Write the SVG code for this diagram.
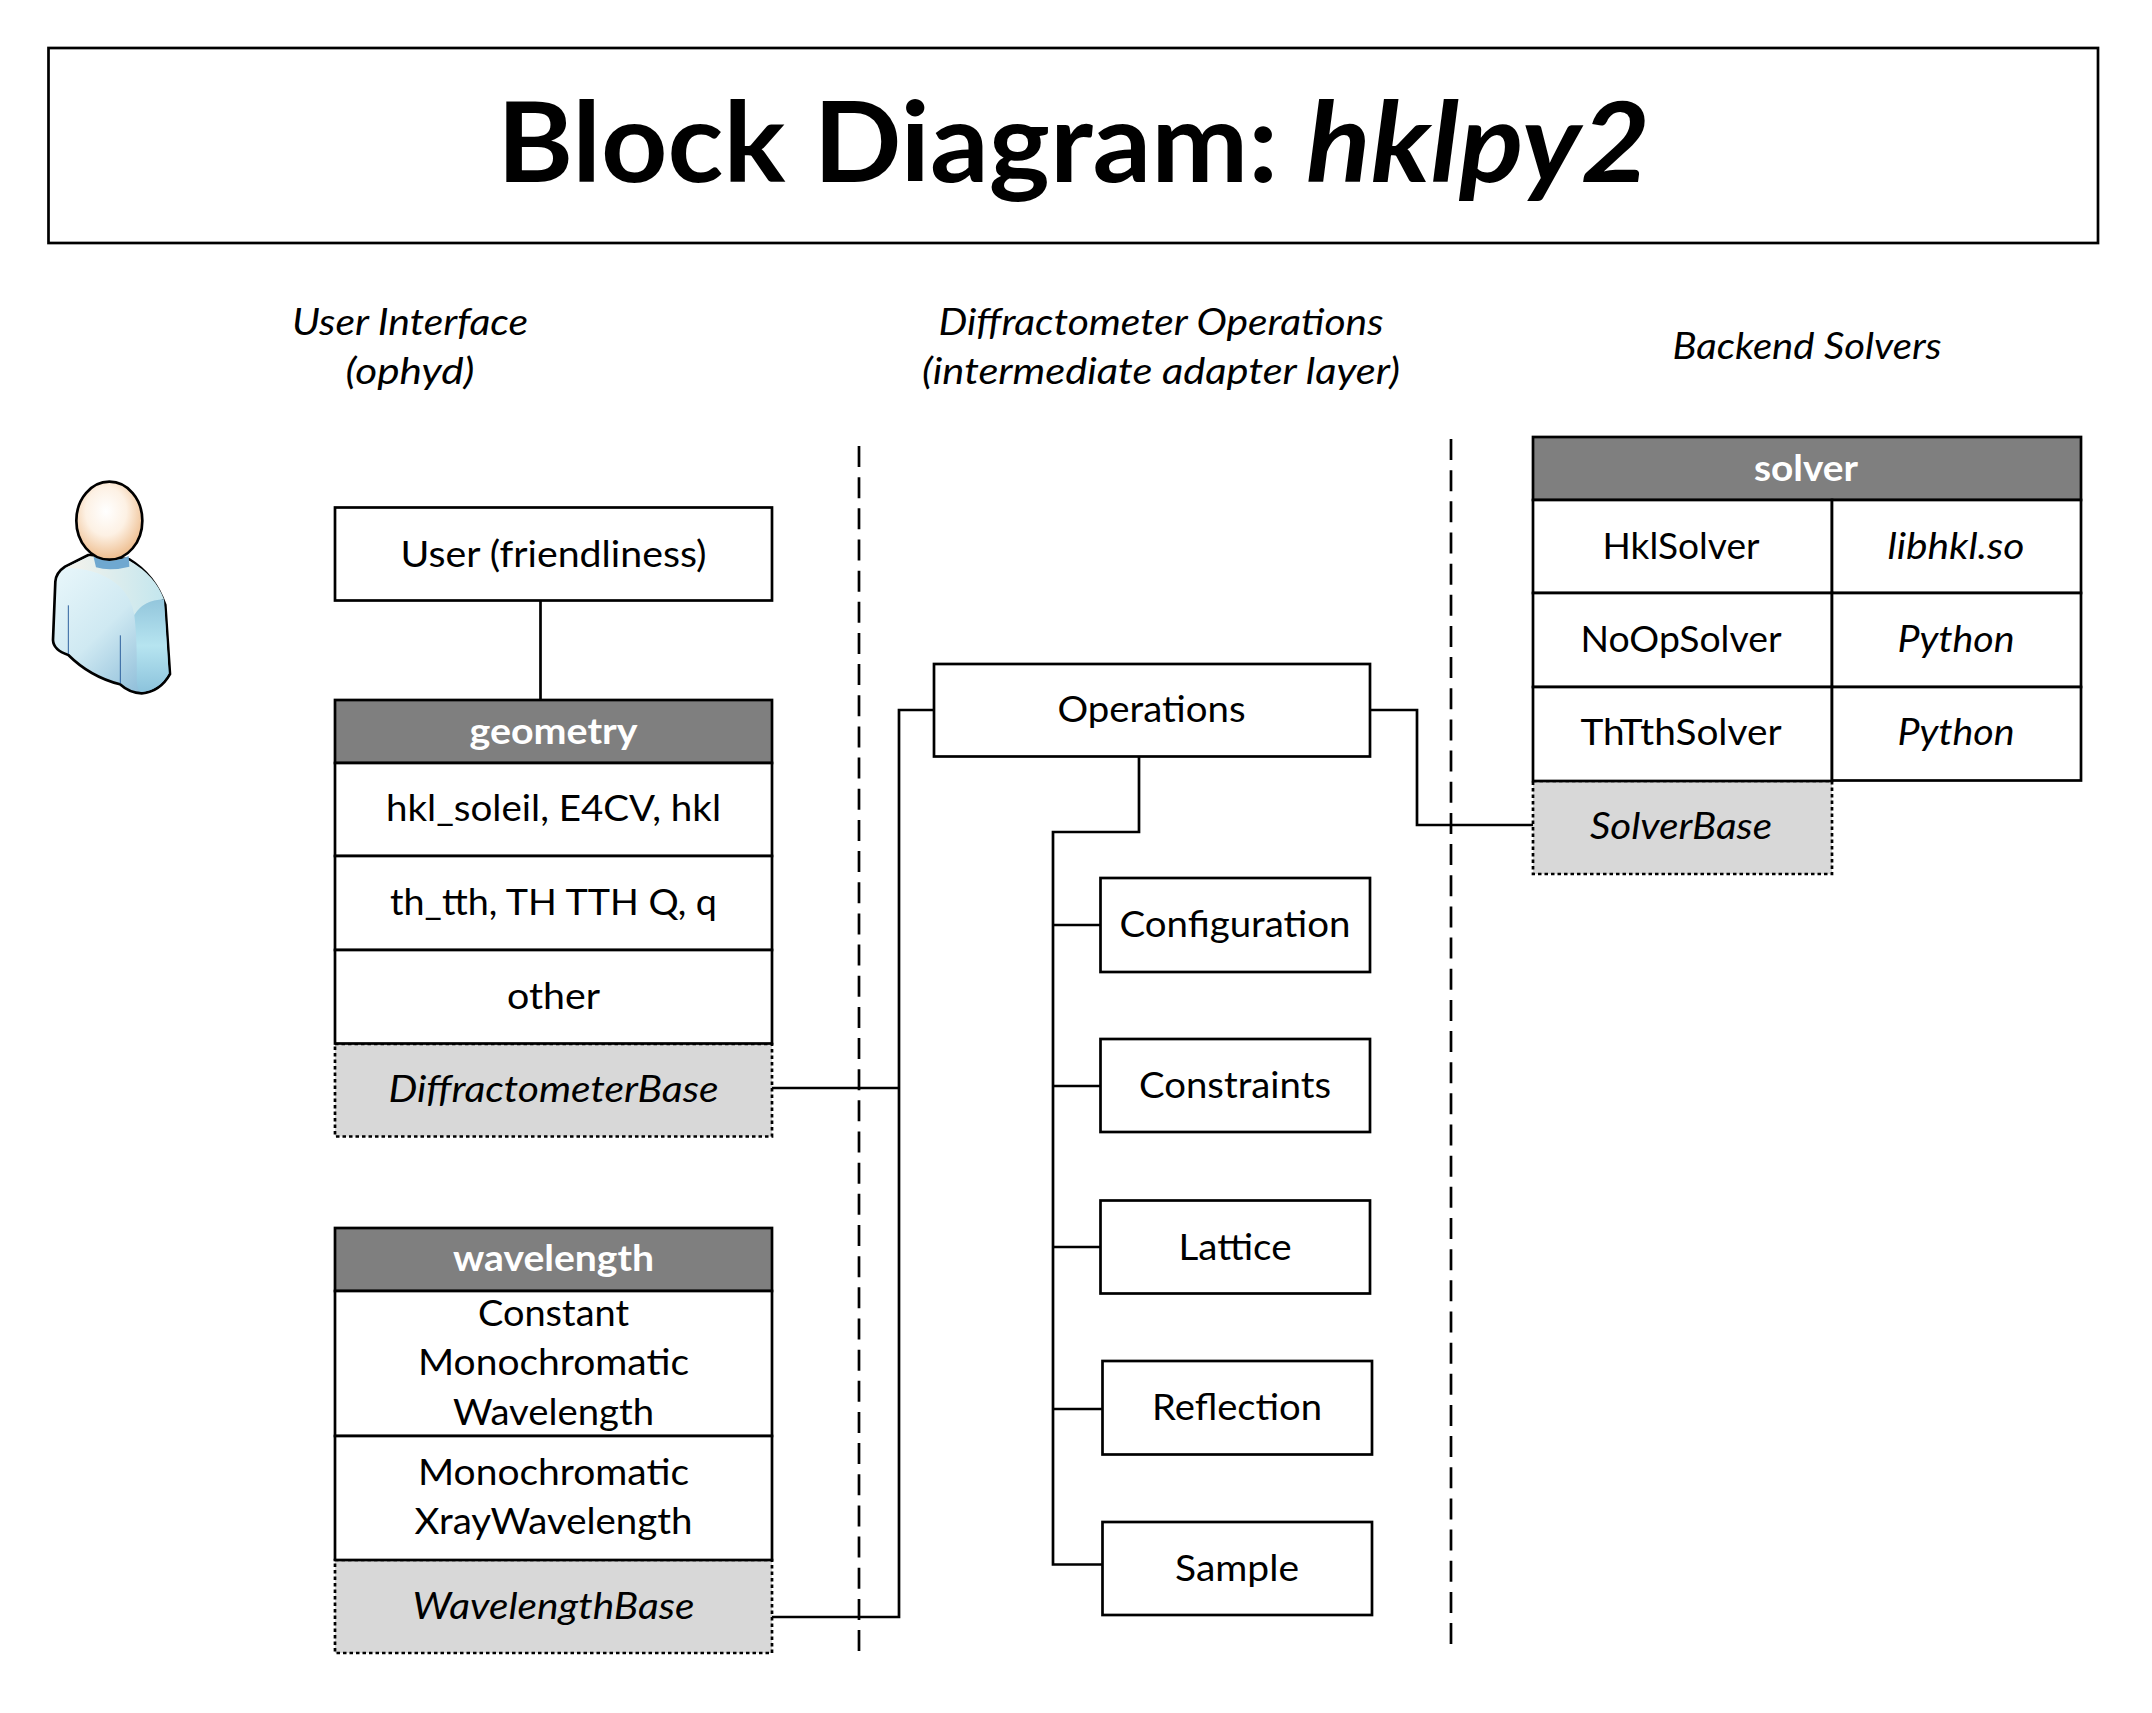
<svg xmlns="http://www.w3.org/2000/svg" width="2152" height="1713" viewBox="0 0 2152 1713">
<style>
text{font-family:"Lato","Carlito","Open Sans",sans-serif;font-size:36px;fill:#000;text-anchor:middle}
.i{font-style:italic}
.h{font-weight:700;fill:#fff}
.cell{fill:#fff;stroke:#000;stroke-width:2.7}
.head{fill:#7f7f7f;stroke:#000;stroke-width:2.7}
.base{fill:#d8d8d8;stroke:#000;stroke-width:2.7;stroke-dasharray:3.5 3}
.wire{fill:none;stroke:#000;stroke-width:2.7}
.div{fill:none;stroke:#000;stroke-width:2.7;stroke-dasharray:21 10.16}
.title{font-size:112px;font-weight:700;text-anchor:start}
</style>
<defs>
<radialGradient id="skin" cx=".45" cy=".38" r=".62"><stop offset="0" stop-color="#fff"/><stop offset=".5" stop-color="#fdf1e4"/><stop offset="1" stop-color="#eebd8e"/></radialGradient>
<linearGradient id="torso" x1=".05" y1=".05" x2=".85" y2="1"><stop offset="0" stop-color="#e9f7fb"/><stop offset=".5" stop-color="#cfe9f2"/><stop offset="1" stop-color="#86b8d6"/></linearGradient>
<linearGradient id="yoke" x1="0" y1="0" x2="1" y2="0"><stop offset="0" stop-color="#f5f3ec"/><stop offset="1" stop-color="#c3e6ee"/></linearGradient>
<linearGradient id="arm" x1="0" y1="0" x2="0" y2="1"><stop offset="0" stop-color="#93c6dc"/><stop offset=".5" stop-color="#b6e4f0"/><stop offset="1" stop-color="#8cc3dc"/></linearGradient>
</defs>
<rect width="2152" height="1713" fill="#fff"/>

<g id="title">
<rect x="48.5" y="48" width="2049.5" height="195" fill="#fff" stroke="#000" stroke-width="2.7"/>
<text class="title" x="497" y="182" textLength="781" lengthAdjust="spacingAndGlyphs">Block Diagram:</text>
<text class="title i" x="1306" y="182" textLength="344" lengthAdjust="spacingAndGlyphs">hklpy2</text>
</g>

<g id="column-labels">
<text class="i" x="410" y="335" textLength="236" lengthAdjust="spacingAndGlyphs">User Interface</text>
<text class="i" x="410" y="384" textLength="129" lengthAdjust="spacingAndGlyphs">(ophyd)</text>
<text class="i" x="1161" y="335" textLength="445" lengthAdjust="spacingAndGlyphs">Diffractometer Operations</text>
<text class="i" x="1161" y="384" textLength="478" lengthAdjust="spacingAndGlyphs">(intermediate adapter layer)</text>
<text class="i" x="1807" y="359" textLength="269" lengthAdjust="spacingAndGlyphs">Backend Solvers</text>
</g>

<g id="connectors">
<path class="div" d="M859 446V1651"/>
<path class="div" d="M1451 439V1644"/>
<path class="wire" d="M540.5 601V700"/>
<path class="wire" d="M772 1088H899"/>
<path class="wire" d="M772 1617H899V710H934"/>
<path class="wire" d="M1370 710H1417V825H1533"/>
<path class="wire" d="M1139 757V832H1053V1564.5H1102"/>
<path class="wire" d="M1053 925H1100M1053 1086H1100M1053 1247H1100M1053 1409H1102"/>
</g>

<g id="person" transform="translate(20 450) scale(.33333)">
<path d="M205 315L135 350Q108 368 106 395L99 570Q100 600 145 615Q210 680 300 703Q330 730 365 730Q420 725 450 672L436 465Q405 375 328 328Z" fill="url(#torso)" stroke="#000" stroke-width="8" stroke-linejoin="round"/>
<path d="M209 319L139 353Q240 355 300 410Q335 445 343 495Q370 450 432 448Q405 375 328 332Z" fill="url(#yoke)"/>
<path d="M343 495Q370 450 432 448L446 670Q420 720 365 726Q352 726 350 690Q352 570 343 495Z" fill="url(#arm)"/>
<path d="M220 318Q270 345 326 318L328 350Q270 365 228 352Z" fill="#6fa8d0"/>
<path d="M145 466V612M301 556V700" fill="none" stroke="#2d5f9e" stroke-width="3"/>
<ellipse cx="268" cy="212" rx="99" ry="117" fill="url(#skin)" stroke="#000" stroke-width="8"/>
</g>

<g id="user">
<rect class="cell" x="335" y="507.5" width="437" height="93"/>
<text x="553.5" y="566.5" textLength="306" lengthAdjust="spacingAndGlyphs">User (friendliness)</text>
</g>

<g id="geometry">
<rect class="base" x="335" y="1044" width="437" height="92.5"/>
<rect class="head" x="335" y="700" width="437" height="63"/>
<rect class="cell" x="335" y="763" width="437" height="93"/>
<rect class="cell" x="335" y="856" width="437" height="94"/>
<rect class="cell" x="335" y="950" width="437" height="93.5"/>
<text class="h" x="553.5" y="744" textLength="168" lengthAdjust="spacingAndGlyphs">geometry</text>
<text x="553.5" y="821" textLength="335" lengthAdjust="spacingAndGlyphs">hkl_soleil, E4CV, hkl</text>
<text x="553.5" y="915" textLength="327" lengthAdjust="spacingAndGlyphs">th_tth, TH TTH Q, q</text>
<text x="553.5" y="1009" textLength="93" lengthAdjust="spacingAndGlyphs">other</text>
<text class="i" x="553.5" y="1102" textLength="330" lengthAdjust="spacingAndGlyphs">DiffractometerBase</text>
</g>

<g id="wavelength">
<rect class="base" x="335" y="1560" width="437" height="93"/>
<rect class="head" x="335" y="1228" width="437" height="63"/>
<rect class="cell" x="335" y="1291" width="437" height="145"/>
<rect class="cell" x="335" y="1436" width="437" height="124"/>
<text class="h" x="553.5" y="1271" textLength="201" lengthAdjust="spacingAndGlyphs">wavelength</text>
<text x="553.5" y="1326" textLength="151" lengthAdjust="spacingAndGlyphs">Constant</text>
<text x="553.5" y="1375" textLength="271" lengthAdjust="spacingAndGlyphs">Monochromatic</text>
<text x="553.5" y="1425" textLength="201" lengthAdjust="spacingAndGlyphs">Wavelength</text>
<text x="553.5" y="1485" textLength="271" lengthAdjust="spacingAndGlyphs">Monochromatic</text>
<text x="553.5" y="1534" textLength="278" lengthAdjust="spacingAndGlyphs">XrayWavelength</text>
<text class="i" x="553.5" y="1619" textLength="282" lengthAdjust="spacingAndGlyphs">WavelengthBase</text>
</g>

<g id="operations">
<rect class="cell" x="934" y="664" width="436" height="92.5"/>
<text x="1151.5" y="722" textLength="188" lengthAdjust="spacingAndGlyphs">Operations</text>
</g>
<g id="configuration">
<rect class="cell" x="1100.5" y="878" width="269.5" height="94"/>
<text x="1235" y="937" textLength="231" lengthAdjust="spacingAndGlyphs">Configuration</text>
</g>
<g id="constraints">
<rect class="cell" x="1100.5" y="1039" width="269.5" height="93"/>
<text x="1235" y="1098" textLength="192" lengthAdjust="spacingAndGlyphs">Constraints</text>
</g>
<g id="lattice">
<rect class="cell" x="1100.5" y="1200.5" width="269.5" height="93"/>
<text x="1235" y="1259.5" textLength="113" lengthAdjust="spacingAndGlyphs">Lattice</text>
</g>
<g id="reflection">
<rect class="cell" x="1102.5" y="1361" width="269.5" height="93.5"/>
<text x="1237" y="1420" textLength="170" lengthAdjust="spacingAndGlyphs">Reflection</text>
</g>
<g id="sample">
<rect class="cell" x="1102.5" y="1522" width="269.5" height="93"/>
<text x="1237" y="1580.5" textLength="124" lengthAdjust="spacingAndGlyphs">Sample</text>
</g>

<g id="solver">
<rect class="base" x="1533" y="781" width="299" height="93"/>
<rect class="head" x="1533" y="437" width="548" height="63"/>
<rect class="cell" x="1533" y="500" width="299" height="93"/>
<rect class="cell" x="1832" y="500" width="249" height="93"/>
<rect class="cell" x="1533" y="593" width="299" height="94"/>
<rect class="cell" x="1832" y="593" width="249" height="94"/>
<rect class="cell" x="1533" y="687" width="299" height="94"/>
<rect class="cell" x="1832" y="687" width="249" height="93.5"/>
<text class="h" x="1806" y="481" textLength="104" lengthAdjust="spacingAndGlyphs">solver</text>
<text x="1681" y="559" textLength="157" lengthAdjust="spacingAndGlyphs">HklSolver</text>
<text class="i" x="1956" y="559" textLength="137" lengthAdjust="spacingAndGlyphs">libhkl.so</text>
<text x="1681" y="652" textLength="201" lengthAdjust="spacingAndGlyphs">NoOpSolver</text>
<text class="i" x="1956" y="652" textLength="117" lengthAdjust="spacingAndGlyphs">Python</text>
<text x="1681" y="745" textLength="201" lengthAdjust="spacingAndGlyphs">ThTthSolver</text>
<text class="i" x="1956" y="745" textLength="117" lengthAdjust="spacingAndGlyphs">Python</text>
<text class="i" x="1681" y="839" textLength="182" lengthAdjust="spacingAndGlyphs">SolverBase</text>
</g>
</svg>
